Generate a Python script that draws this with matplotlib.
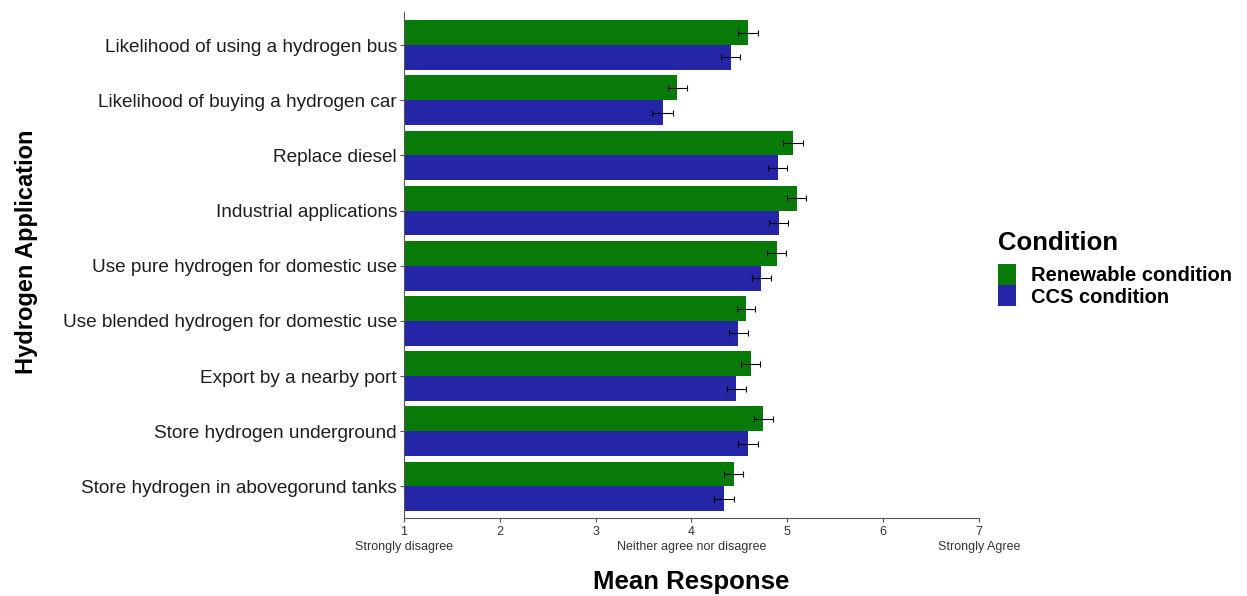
import numpy as np
import matplotlib.pyplot as plt

plt.rcParams['font.family'] = ['Liberation Sans', 'DejaVu Sans']

# data
applications = [
    "Likelihood of using a hydrogen bus",
    "Likelihood of buying a hydrogen car",
    "Replace diesel",
    "Industrial applications",
    "Use pure hydrogen for domestic use",
    "Use blended hydrogen for domestic use",
    "Export by a nearby port",
    "Store hydrogen underground",
    "Store hydrogen in abovegorund tanks",
]
renewable_mean = [4.59, 3.85, 5.06, 5.10, 4.89, 4.57, 4.62, 4.75, 4.44]
renewable_err = [0.10, 0.10, 0.10, 0.10, 0.10, 0.09, 0.10, 0.10, 0.10]
ccs_mean = [4.41, 3.70, 4.90, 4.91, 4.73, 4.49, 4.47, 4.59, 4.34]
ccs_err = [0.10, 0.11, 0.10, 0.10, 0.10, 0.10, 0.10, 0.10, 0.10]

xticks = [1, 2, 3, 4, 5, 6, 7]
xtick_labels = ["1\nStrongly disagree", "2", "3", "4\nNeither agree nor disagree",
                "5", "6", "7\nStrongly Agree"]

GREEN = '#087a08'
BLUE = '#2525a8'

fig = plt.figure(figsize=(12.47, 5.96), dpi=100)
ax = fig.add_axes([0.324, 0.131, 0.461, 0.849])

y = np.arange(len(applications))[::-1].astype(float)
h = 0.45
base = 1

ax.barh(y + h / 2, np.array(renewable_mean) - base, height=h, left=base,
        color=GREEN, label="Renewable condition")
ax.barh(y - h / 2, np.array(ccs_mean) - base, height=h, left=base,
        color=BLUE, label="CCS condition")
ax.errorbar(renewable_mean, y + h / 2, xerr=renewable_err, fmt='none',
            ecolor='black', elinewidth=0.8, capsize=2.5, capthick=0.8)
ax.errorbar(ccs_mean, y - h / 2, xerr=ccs_err, fmt='none',
            ecolor='black', elinewidth=0.8, capsize=2.5, capthick=0.8)

ax.set_xlim(1, 7)
ax.set_ylim(-0.57, 8.6)
ax.set_yticks(y)
ax.set_yticklabels(applications, fontsize=13.7, color='#1e1e1e')
ax.set_xticks(xticks)
ax.set_xticklabels(xtick_labels, fontsize=9, color='#333333', linespacing=1.3)

for s in ['top', 'right']:
    ax.spines[s].set_visible(False)
ax.spines['left'].set_color('#555555')
ax.spines['bottom'].set_color('#555555')
ax.tick_params(axis='both', length=3, color='#555555', pad=2)
ax.tick_params(axis='x', pad=3)

# axis titles placed on the figure
fig.text(0.5545, 0.024, "Mean Response", fontsize=18.5, fontweight='bold',
         ha='center', va='center')
fig.text(0.021, 0.578, "Hydrogen Application", rotation=90, fontsize=17,
         fontweight='bold', ha='center', va='center')

leg = ax.legend(loc='center left', bbox_to_anchor=(1.02, 0.492), frameon=False,
                title="Condition", prop={'size': 14.5, 'weight': 'bold'},
                handlelength=0.85, handleheight=1.25,
                handletextpad=0.75, labelspacing=0.0, borderaxespad=0)
leg.get_title().set_fontsize(18.5)
leg.get_title().set_fontweight('bold')
leg._legend_box.align = 'left'
leg._legend_box.sep = 6

fig.savefig('out.png', dpi=100)
